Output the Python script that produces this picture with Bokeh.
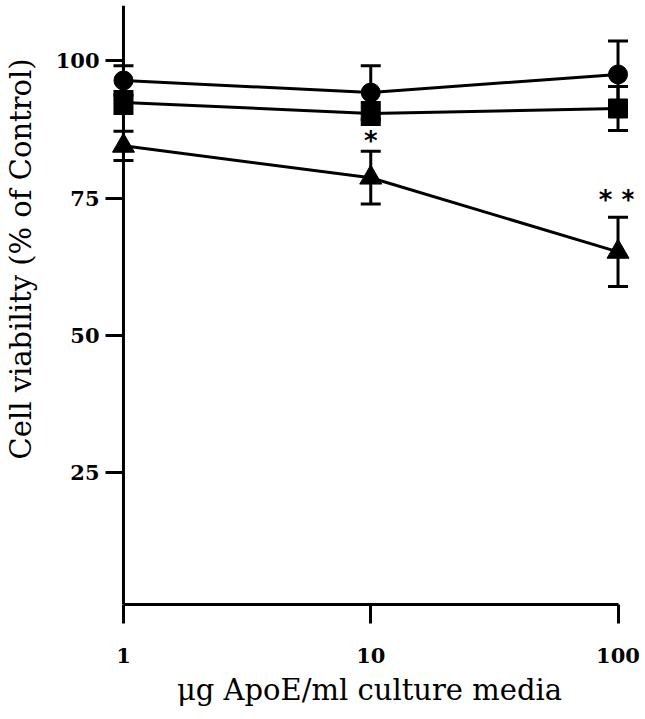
from bokeh.plotting import figure
from bokeh.models import FixedTicker, Range1d, BasicTickFormatter, Span
from bokeh.embed import file_html
from bokeh.resources import INLINE
from bokeh.core.properties import value

# ---- data ----
conc = [1, 10, 100]
circle_vals = [96.4, 94.2, 97.5]
circle_err = [2.7, 4.9, 6.1]
square_vals = [92.4, 90.4, 91.3]
square_err = [2.0, 2.0, 4.0]
triangle_vals = [84.5, 78.7, 65.2]
triangle_err = [2.65, 4.8, 6.3]
star_x = [10, 89, 110]
star_y = [86.0, 75.1, 75.1]
star_text = ["*", "*", "*"]
x_ticks = [1, 10, 100]
x_tick_labels = ["1", "10", "100"]
y_ticks = [25, 50, 75, 100]
y_tick_labels = ["25", "50", "75", "100"]
x_label = "\u03bcg ApoE/ml culture media"
y_label = "Cell viability (% of Control)"

p = figure(width=645, height=719, x_axis_type="log",
           x_range=Range1d(0.8459, 115.5), y_range=Range1d(1.0, 110.05),
           output_backend="svg", toolbar_location=None,
           min_border_left=104, min_border_right=12,
           min_border_top=5, min_border_bottom=115)
p.outline_line_color = None
p.xgrid.visible = False
p.ygrid.visible = False
p.background_fill_color = "white"
p.border_fill_color = "white"

# axes
for ax in (p.xaxis, p.yaxis):
    ax.axis_line_width = 3
    ax.axis_line_color = "black"
    ax.major_tick_line_width = 3
    ax.major_tick_line_color = "black"
    ax.minor_tick_out = 0
    ax.minor_tick_in = 0
    ax.major_label_text_font = "DejaVu Serif"
    ax.major_label_text_font_style = "bold"
    ax.major_label_text_font_size = "21px"
    ax.major_label_text_color = "black"
    ax.axis_label_text_font = "DejaVu Serif"
    ax.axis_label_text_font_style = "normal"
    ax.axis_label_text_font_size = "29px"
    ax.axis_label_text_color = "black"

p.xaxis.bounds = (1, 100)
p.xaxis.ticker = FixedTicker(ticks=x_ticks, minor_ticks=[])
p.xaxis.formatter = BasicTickFormatter()
p.xaxis.major_label_overrides = {t: l for t, l in zip(x_ticks, x_tick_labels)}
p.xaxis.major_tick_in = 0
p.xaxis.major_tick_out = 19
p.xaxis.major_label_standoff = 24
p.xaxis.axis_label = x_label
p.xaxis.axis_label_standoff = 7

# y axis: labels from Bokeh's axis; its line is drawn at x = 1
p.yaxis.ticker = FixedTicker(ticks=y_ticks, minor_ticks=[])
p.yaxis.major_label_overrides = {t: l for t, l in zip(y_ticks, y_tick_labels)}
p.yaxis.axis_line_color = None
p.yaxis.major_tick_out = 0
p.yaxis.major_tick_in = 17
p.yaxis.major_label_standoff = 6
# the label sits above the frame centre in the reference: pad its start
p.yaxis.axis_label = "\u00a0" * 10 + y_label
p.yaxis.axis_label_standoff = 15
p.add_layout(Span(location=x_ticks[0], dimension="height", line_color="black", line_width=3))

# lines
for vals in (circle_vals, square_vals, triangle_vals):
    p.line(conc, vals, line_width=3, line_color="black")

# error bars
for vals, err in ((circle_vals, circle_err), (square_vals, square_err),
                  (triangle_vals, triangle_err)):
    lo = [v - e for v, e in zip(vals, err)]
    hi = [v + e for v, e in zip(vals, err)]
    p.segment(x0=conc, y0=lo, x1=conc, y1=hi, line_width=3, line_color="black")
    p.scatter(conc, lo, marker="dash", size=20, line_width=3, line_color="black")
    p.scatter(conc, hi, marker="dash", size=20, line_width=3, line_color="black")

# markers
p.scatter(conc, circle_vals, marker="circle", size=19, fill_color="black", line_color="black", line_width=1)
p.scatter(conc, square_vals, marker="square", size=19, fill_color="black", line_color="black", line_width=1)
p.scatter(conc, triangle_vals, marker="triangle", size=22, fill_color="black", line_color="black", line_width=1)

# significance stars
p.text(x=star_x, y=star_y, text=star_text, text_font=value("DejaVu Sans"),
       text_font_size="26px", text_font_style="bold", text_align="center",
       text_baseline="alphabetic", y_offset=3, text_color="black")

open("out.html", "w").write(file_html(p, INLINE))
